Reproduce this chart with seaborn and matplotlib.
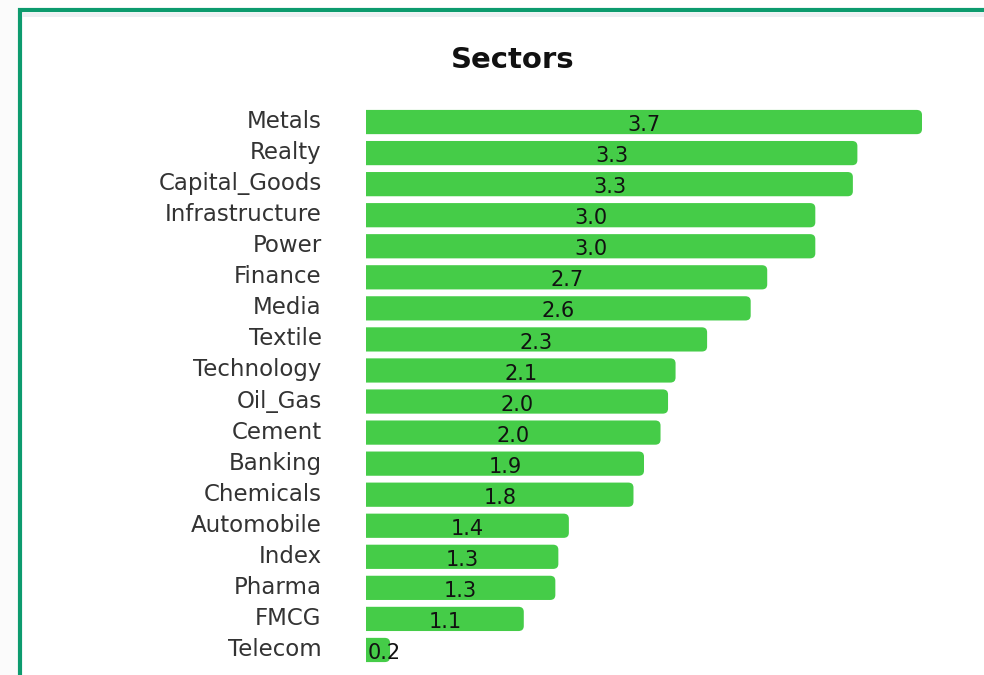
import matplotlib
matplotlib.use("Agg")
import matplotlib.pyplot as plt
import matplotlib.transforms as mtransforms
from matplotlib.patches import FancyBboxPatch, Rectangle
import seaborn as sns
import pandas as pd

sectors = ["Metals", "Realty", "Capital_Goods", "Infrastructure", "Power", "Finance",
           "Media", "Textile", "Technology", "Oil_Gas", "Cement", "Banking",
           "Chemicals", "Automobile", "Index", "Pharma", "FMCG", "Telecom"]
values = [3.70, 3.27, 3.24, 2.99, 2.99, 2.67, 2.56, 2.27, 2.06, 2.01, 1.96, 1.85,
          1.78, 1.35, 1.28, 1.26, 1.05, 0.16]
labels = ["3.7", "3.3", "3.3", "3.0", "3.0", "2.7", "2.6", "2.3", "2.1", "2.0", "2.0",
          "1.9", "1.8", "1.4", "1.3", "1.3", "1.1", "0.2"]

df = pd.DataFrame({"sector": sectors, "value": values})

sns.set_theme(style="white")
plt.rcParams["font.family"] = ["DejaVu Sans"]

W, H = 984, 675
fig = plt.figure(figsize=(W / 100, H / 100), dpi=100)
fig.patch.set_facecolor("white")

# card frame
fig.patches.append(Rectangle((0, 0), 20 / W, 1, transform=fig.transFigure,
                             facecolor="#fbfbfb", edgecolor="none", zorder=-3))
fig.patches.append(Rectangle((20 / W, -0.1), 1.1, 1.1 - 10 / H, transform=fig.transFigure,
                             facecolor="white", edgecolor="#0d9b6e", linewidth=3, zorder=-2))
fig.patches.append(Rectangle((22 / W, 1 - 17 / H), 1, 4 / H, transform=fig.transFigure,
                             facecolor="#eef0f3", edgecolor="none", zorder=-1))

left = 366 / W
right = 922 / W
top = 1 - 106.5 / H
bottom = 1 - 665.5 / H
ax = fig.add_axes([left, bottom, right - left, top - bottom])
ax.set_facecolor("none")

bar_color = "#45cc48"
sns.barplot(data=df, x="value", y="sector", orient="h", color=bar_color,
            width=0.78, ax=ax, saturation=1)
ax.set_xlim(0, 3.7)
ax.set_ylim(len(sectors) - 0.5, -0.5)

# replace rectangles with right-rounded bars
r = 0.035
aspect = (5.0 / 31.06) / r
for p in list(ax.patches):
    x0, y0 = p.get_x(), p.get_y()
    w, h = p.get_width(), p.get_height()
    p.set_visible(False)
    fb = FancyBboxPatch((x0 - 0.2, y0), w + 0.2, h,
                        boxstyle=f"round,pad=0,rounding_size={r}",
                        mutation_aspect=aspect, facecolor=bar_color,
                        edgecolor="none", zorder=2)
    ax.add_patch(fb)

for i, (v, lab) in enumerate(zip(values, labels)):
    x = v / 2 if v > 0.4 else 0.01
    ha = "center" if v > 0.4 else "left"
    ax.text(x, i + 0.1, lab, ha=ha, va="center", fontsize=15, color="#111111", zorder=3)

for s in ax.spines.values():
    s.set_visible(False)
ax.set_xticks([])
ax.set_xlabel("")
ax.set_ylabel("")
ax.tick_params(axis="y", length=0, pad=32, labelsize=16.5, labelcolor="#333333")
offset = mtransforms.ScaledTranslation(0, 3 / 100, fig.dpi_scale_trans)
for t in ax.get_yticklabels():
    t.set_transform(t.get_transform() + offset)

fig.text(513 / W, 1 - 60 / H, "Sectors", ha="center", va="center",
         fontsize=21, fontweight="bold", color="#111111")

fig.savefig("out.png", dpi=100)
